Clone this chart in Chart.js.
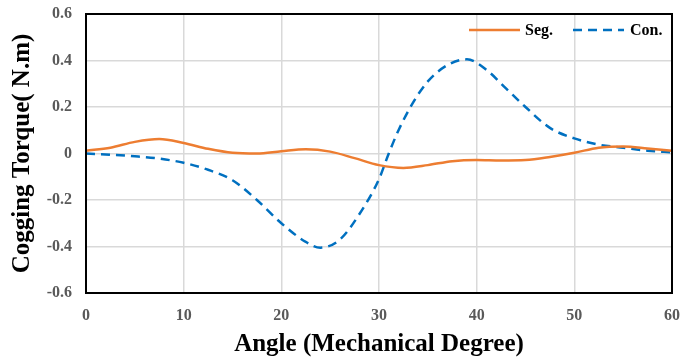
<!DOCTYPE html>
<html>
<head>
<meta charset="utf-8">
<script src="https://cdn.jsdelivr.net/npm/chart.js@4/dist/chart.umd.min.js"></script>
<style>
  html, body { margin: 0; padding: 0; background: #fff; }
  #wrap { width: 680px; height: 360px; position: relative; }
</style>
</head>
<body>
<div id="wrap"><canvas id="cogChart" width="680" height="360"></canvas></div>
<script>
// angle (deg) / torque (N.m)
const segAngle = [0, 2.5, 5, 7.5, 10, 12.5, 15, 17.5, 20, 22.5, 25, 27.5, 30, 32.5, 35, 37.5, 40, 42.5, 45, 47.5, 50, 52.5, 55, 57.5, 60];
const segTorque = [0.012, 0.025, 0.05, 0.062, 0.045, 0.02, 0.003, 0.0, 0.01, 0.018, 0.008, -0.02, -0.05, -0.062, -0.05, -0.033, -0.028, -0.03, -0.028, -0.015, 0.003, 0.025, 0.03, 0.022, 0.012];

const conAngle = [0, 2.5, 5, 7.5, 10, 12.5, 15, 17.5, 20, 22.5, 24, 26, 28, 30, 31, 32, 33.5, 35, 37, 39, 41, 43, 45, 47.5, 50, 52.5, 55, 57.5, 60];
const conTorque = [0, -0.005, -0.012, -0.022, -0.04, -0.07, -0.115, -0.2, -0.3, -0.38, -0.405, -0.37, -0.26, -0.11, 0, 0.1, 0.22, 0.31, 0.38, 0.405, 0.36, 0.28, 0.2, 0.11, 0.065, 0.038, 0.025, 0.012, 0.005];

const xTicks = [0, 10, 20, 30, 40, 50, 60];
const yTicks = [-0.6, -0.4, -0.2, 0, 0.2, 0.4, 0.6];

const seriesNames = ['Seg.', 'Con.'];
const orange = '#ED7D31';
const blue = '#0070C0';
const serif = '"Liberation Serif", "Times New Roman", serif';

const toPoints = (xs, ys) => xs.map((x, i) => ({ x, y: ys[i] }));

// legend sits inside the plot, top right, plus the black frame
const framePlugin = {
  id: 'frame',
  afterDraw(chart) {
    const { ctx, chartArea: a } = chart;
    ctx.save();
    ctx.strokeStyle = '#000';
    ctx.lineWidth = 2;
    ctx.strokeRect(a.left, a.top, a.right - a.left, a.bottom - a.top);

    ctx.font = 'bold 16px ' + serif;
    ctx.fillStyle = '#000';
    ctx.textBaseline = 'middle';
    const ly = a.top + 16;
    ctx.lineWidth = 2.5;
    ctx.strokeStyle = orange;
    ctx.beginPath(); ctx.moveTo(469, ly); ctx.lineTo(520, ly); ctx.stroke();
    ctx.fillText(seriesNames[0], 525, ly + 1);
    ctx.strokeStyle = blue;
    ctx.setLineDash([9, 6]);
    ctx.beginPath(); ctx.moveTo(573, ly); ctx.lineTo(624, ly); ctx.stroke();
    ctx.setLineDash([]);
    ctx.fillText(seriesNames[1], 630, ly + 1);
    ctx.restore();
  }
};

new Chart(document.getElementById('cogChart'), {
  type: 'line',
  data: {
    datasets: [
      {
        label: seriesNames[0],
        data: toPoints(segAngle, segTorque),
        borderColor: orange,
        borderWidth: 2.5,
        pointRadius: 0,
        cubicInterpolationMode: 'monotone'
      },
      {
        label: seriesNames[1],
        data: toPoints(conAngle, conTorque),
        borderColor: blue,
        borderWidth: 2.5,
        borderDash: [9, 6],
        pointRadius: 0,
        cubicInterpolationMode: 'monotone'
      }
    ]
  },
  options: {
    responsive: false,
    animation: false,
    layout: { padding: { left: 0, right: 8, top: 14, bottom: 0 } },
    plugins: { legend: { display: false }, tooltip: { enabled: false } },
    scales: {
      x: {
        type: 'linear',
        min: 0,
        max: 60,
        afterBuildTicks: (s) => { s.ticks = xTicks.map((v) => ({ value: v })); },
        afterFit: (s) => { s.height = 67; s.paddingLeft = 0; s.paddingRight = 0; },
        grid: { color: '#d9d9d9', lineWidth: 1.5, drawTicks: false },
        border: { color: '#000', width: 2 },
        ticks: { color: '#595959', padding: 13, font: { family: serif, size: 16, weight: 'bold' } },
        title: {
          display: true,
          text: 'Angle (Mechanical Degree)',
          color: '#000',
          padding: 0,
          font: { family: serif, size: 25, weight: 'bold' }
        }
      },
      y: {
        min: -0.6,
        max: 0.6,
        afterBuildTicks: (s) => { s.ticks = yTicks.map((v) => ({ value: v })); },
        afterFit: (s) => { s.width = 86; s.paddingTop = 0; s.paddingBottom = 0; },
        grid: { color: '#d9d9d9', lineWidth: 1.5, drawTicks: false },
        border: { color: '#000', width: 2 },
        ticks: {
          color: '#595959',
          padding: 14,
          font: { family: serif, size: 16, weight: 'bold' },
          callback: (v) => (v === 0 ? '0' : v.toFixed(1))
        },
        title: {
          display: true,
          text: 'Cogging Torque( N.m)',
          color: '#000',
          padding: 8,
          font: { family: serif, size: 25, weight: 'bold' }
        }
      }
    }
  },
  plugins: [framePlugin]
});
</script>
</body>
</html>
